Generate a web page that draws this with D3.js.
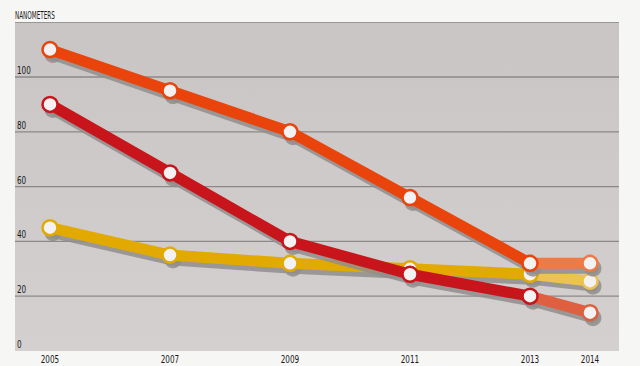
<!DOCTYPE html>
<html><head><meta charset="utf-8">
<script src="https://cdn.jsdelivr.net/npm/d3@7"></script>
<style>
html,body{margin:0;padding:0;background:#f6f6f5;}
svg{display:block;}
text{font-family:"Liberation Sans Narrow","DejaVu Sans",sans-serif;font-stretch:condensed;font-weight:normal;fill:#1a1a1a;}
</style></head><body>
<svg id="c" width="640" height="366"></svg>
<script>
const years = [2005, 2007, 2009, 2011, 2013, 2014];
const yTicks = [0, 20, 40, 60, 80, 100];
const yAxisTitle = "NANOMETERS";
const seriesNames = ["yellow", "red", "orange"];
const yellowValues = [45, 35, 32, 30, 28, 25.5];
const redValues = [90, 65, 40, 28, 20, 14];
const orangeValues = [110, 95, 80, 56, 32, 32];
const seriesColors = ["#e2aa00", "#c8151b", "#e9440b"];
const seriesLight = ["#ecc250", "#de6040", "#ee7a45"];
const seriesValues = [yellowValues, redValues, orangeValues];

const svg = d3.select("#c");
const x = d3.scaleLinear().domain([2005, 2014]).range([50, 590]);
const y = d3.scaleLinear().domain([0, 100]).range([351, 77]);

const defs = svg.append("defs");
const g = defs.append("linearGradient").attr("id","bg").attr("x1",0).attr("y1",0).attr("x2",0).attr("y2",1);
g.append("stop").attr("offset","0%").attr("stop-color","#c8c5c4");
g.append("stop").attr("offset","100%").attr("stop-color","#d3d0cf");

svg.append("rect").attr("x",15).attr("y",22).attr("width",604).attr("height",329).attr("fill","url(#bg)");

svg.append("g").selectAll("line").data(yTicks.filter(d=>d>0)).join("line")
  .attr("x1",15).attr("x2",619).attr("y1",d=>y(d)).attr("y2",d=>y(d))
  .attr("stroke","#8c8888").attr("stroke-width",1.3);
svg.append("line").attr("x1",15).attr("x2",619).attr("y1",22.5).attr("y2",22.5).attr("stroke","#9a9696").attr("stroke-width",1);

const narrow = (t, sx) => t.attr("transform", function(){ const xx=+this.getAttribute("x"), yy=+this.getAttribute("y"); return `translate(${xx},${yy}) scale(${sx},1.15) translate(${-xx},${-yy})`; });

svg.append("g").selectAll("text").data(yTicks).join("text")
  .attr("x",17).attr("y",d=>y(d)-3).attr("font-size",9.5).text(d=>d).call(narrow, 0.85);
svg.append("text").attr("x",15).attr("y",19).attr("font-size",9).attr("font-weight","bold").text(yAxisTitle).call(narrow, 0.7);

svg.append("g").selectAll("text").data(years).join("text")
  .attr("x",d=>x(d)).attr("y",363).attr("text-anchor","middle").attr("font-size",9.5).text(d=>d).call(narrow, 0.85);

const line = d3.line().x(d=>x(d.year)).y(d=>y(d.v));
seriesValues.forEach((vals,i)=>{
  const pts = years.map((yr,k)=>({year:yr, v:vals[k]}));
  const main = pts.slice(0,5), last = pts.slice(4);
  const gg = svg.append("g");
  gg.append("path").attr("d",line(pts)).attr("fill","none").attr("stroke","#918d8d")
    .attr("stroke-width",11).attr("stroke-linejoin","round").attr("stroke-linecap","round")
    .attr("transform","translate(3,5)").attr("opacity",0.85);
  gg.selectAll("circle.s").data(pts).join("circle").attr("class","s")
    .attr("cx",d=>x(d.year)+3).attr("cy",d=>y(d.v)+5).attr("r",8.5).attr("fill","#918d8d").attr("opacity",0.85);
  gg.append("path").attr("d",line(last)).attr("fill","none").attr("stroke",seriesLight[i])
    .attr("stroke-width",11).attr("stroke-linecap","round");
  gg.append("path").attr("d",line(main)).attr("fill","none").attr("stroke",seriesColors[i])
    .attr("stroke-width",11).attr("stroke-linejoin","round").attr("stroke-linecap","round");
  gg.selectAll("circle.p").data(pts).join("circle").attr("class","p")
    .attr("cx",d=>x(d.year)).attr("cy",d=>y(d.v)).attr("r",7.5)
    .attr("fill","#f3f1f1").attr("stroke",(d,k)=>k===5?seriesLight[i]:seriesColors[i]).attr("stroke-width",2.5);
});
</script></body></html>
